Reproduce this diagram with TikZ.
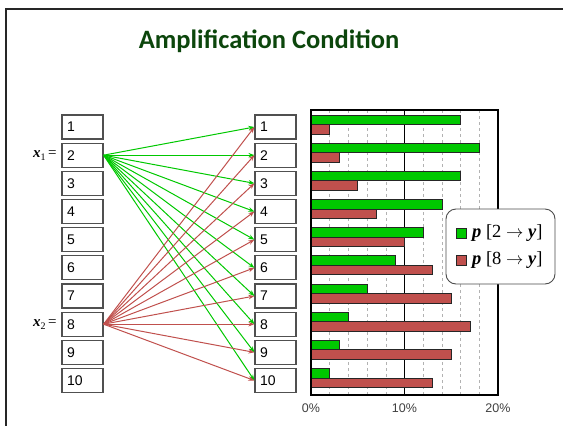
\documentclass[tikz,border=0pt]{standalone}
\usepackage{fontspec}
\setmainfont{Liberation Serif}
\newfontfamily\titlefont{Carlito}
\newfontfamily\numfont{Liberation Sans}
\usetikzlibrary{arrows.meta}

\definecolor{titlegreen}{RGB}{12,70,12}
\definecolor{fwdgreen}{RGB}{0,200,0}
\definecolor{fwdred}{RGB}{192,80,77}
\definecolor{boxgray}{RGB}{80,80,80}

\tikzset{
  valbox/.style={draw=boxgray, line width=1.2pt, minimum height=24pt,
    text width=31pt, inner xsep=5pt, inner ysep=0pt, align=left,
    font=\numfont\fontsize{14}{14}\selectfont},
  greenarrow/.style={draw=fwdgreen, line width=1pt,
    -{Stealth[length=6pt,width=4.5pt]}},
  redarrow/.style={draw=fwdred, line width=1pt,
    -{Stealth[length=6pt,width=4.5pt]}},
  gridline/.style={draw=black!30, dashed, line width=0.6pt},
  axisline/.style={draw=black, line width=1.1pt},
  greenbar/.style={fill=fwdgreen, draw=black!85, line width=0.8pt},
  redbar/.style={fill=fwdred, draw=black!85, line width=0.8pt},
  ticklabel/.style={font=\numfont\fontsize{12.5}{12.5}\selectfont, text=black!75},
  legendbox/.style={draw=black!70, line width=0.9pt, rounded corners=10pt},
  varlabel/.style={anchor=east, inner xsep=2pt, font=\fontsize{15}{15}\selectfont},
  legendtext/.style={anchor=west, inner sep=0pt, font=\fontsize{18.5}{18.5}\selectfont},
}

\begin{document}
\begin{tikzpicture}[x=1pt, y=-1pt]
\useasboundingbox (0,0) rectangle (563,426);

% slide frame (top and left edges)
\draw[line width=1.8pt, black!85] (563,9) -- (6,9) -- (6,426);

% title
\node[font=\titlefont\bfseries\fontsize{26.5}{26.5}\selectfont, text=titlegreen]
  (title) at (269,41) {Amplification Condition};

% value boxes
\foreach \i in {1,...,10} {
  \pgfmathsetmacro{\yy}{127+(\i-1)*28.17}
  \node[valbox] (L\i) at (82.5,\yy) {\i};
  \node[valbox] (R\i) at (275.5,\yy) {\i};
}

% variable labels
\node[varlabel] (xa) at (L2.west)
  {\textbf{\textit{x}}\raisebox{-3pt}{\fontsize{10}{10}\selectfont 1}\,=\,};
\node[varlabel] (xb) at (L8.west)
  {\textbf{\textit{x}}\raisebox{-3pt}{\fontsize{10}{10}\selectfont 2}\,=\,};

% transitions
\foreach \i in {1,...,10} {
  \draw[greenarrow] (L2.east) -- (R\i.west);
}
\foreach \i in {1,...,10} {
  \draw[redarrow] (L8.east) -- (R\i.west);
}

% bar chart: grid
\foreach \k in {1,2,3,4,6,7,8,9} {
  \draw[gridline] ({311+18.7*\k},110) -- ({311+18.7*\k},395);
}
\draw[axisline] (404.5,110) -- (404.5,395);

% bars (percent values)
\foreach \i/\g/\r in {1/16/2, 2/18/3, 3/16/5, 4/14/7, 5/12/10,
                      6/9/13, 7/6/15, 8/4/17, 9/3/15, 10/2/13} {
  \pgfmathsetmacro{\yt}{115+(\i-1)*28.17}
  \draw[greenbar] (311,\yt) rectangle ({311+9.35*\g},\yt+9.5);
  \draw[redbar] (311,\yt+9.5) rectangle ({311+9.35*\r},\yt+19);
}

% chart frame
\draw[axisline] (311,110) rectangle (498,395);

% tick labels
\node[ticklabel] (t0) at (311,408) {0\%};
\node[ticklabel] (t10) at (404.5,408) {10\%};
\node[ticklabel] (t20) at (498,408) {20\%};

% legend
\draw[legendbox, fill=white] (446,209) rectangle (555,284);
\draw[greenbar, line width=0.7pt] (456,228.5) rectangle (466,238);
\draw[redbar, line width=0.7pt] (456,255.5) rectangle (466,265);
\node[legendtext] (lg) at (472,233)
  {\textbf{\textit{p}} [2 $\rightarrow$ \textbf{\textit{y}}]};
\node[legendtext] (lr) at (472,260)
  {\textbf{\textit{p}} [8 $\rightarrow$ \textbf{\textit{y}}]};
\end{tikzpicture}
\end{document}
